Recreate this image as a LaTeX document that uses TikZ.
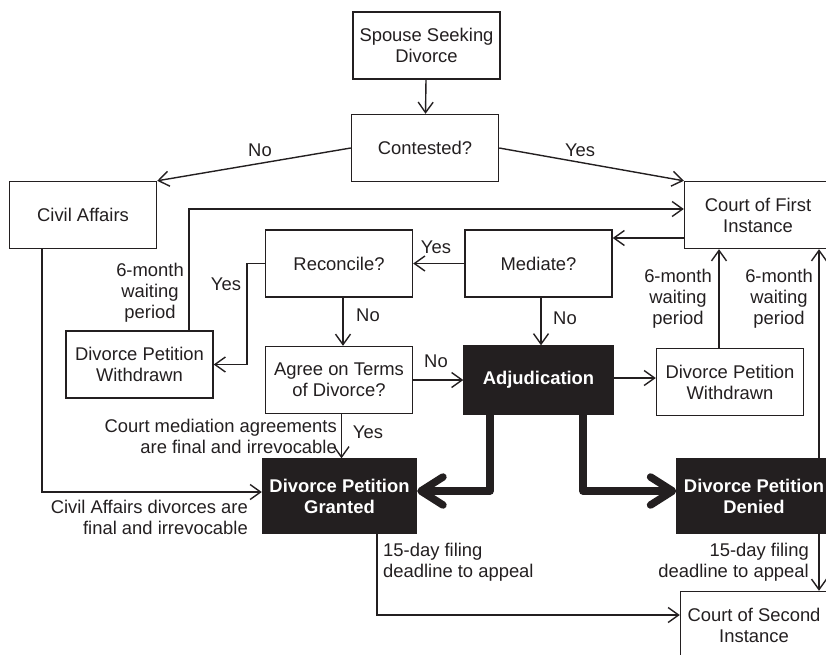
\documentclass[tikz,border=0pt]{standalone}
\usepackage{fontspec}
\setmainfont{Liberation Sans}
\usetikzlibrary{arrows.meta}
\definecolor{ink}{HTML}{231F20}

\begin{document}
\begin{tikzpicture}[x=1pt,y=-1pt]
  \useasboundingbox (0,0) rectangle (826,654);
  \clip (0,0) rectangle (826,654);
  \tikzset{BoxStyle/.style = {
    shape          = rectangle,
    draw           = ink,
    fill           = white,
    line width     = 1.4pt,
    text           = ink,
    align          = center,
    inner sep      = 0pt,
    minimum width  = 147pt,
    minimum height = 67pt,
    font           = \fontsize{18.4}{21}\selectfont
    }
  }
  \tikzset{DarkBoxStyle/.style = {
    BoxStyle,
    fill           = ink,
    text           = white,
    minimum width  = 154pt,
    minimum height = 74pt,
    font           = \fontsize{18.4}{21}\selectfont\bfseries
    }
  }
  \tikzset{ArrowStyle/.style = {
    draw       = ink,
    line width = 1.4pt,
    -{Straight Barb[length=10.5pt,width=15pt]}
    }
  }
  \tikzset{ThickArrowStyle/.style = {
    draw       = ink,
    line width = 7.5pt,
    line join  = round,
    -{Straight Barb[round,length=22pt,width=28pt]}
    }
  }
  \tikzset{LabelStyle/.style = {
    text      = ink,
    inner sep = 0pt,
    font      = \fontsize{18.4}{21}\selectfont
    }
  }

	\node[BoxStyle](A1) at (426.5, 45.5) {Spouse Seeking\\Divorce};
	\node[BoxStyle](B1) at (425, 148) {Contested?};
	\node[BoxStyle](C1) at (83, 215) {Civil Affairs};
	\node[BoxStyle](C2) at (758, 215) {Court of First\\Instance};
	\node[BoxStyle](D1) at (339, 263.5) {Reconcile?};
	\node[BoxStyle](D2) at (538.5, 263.5) {Mediate?};
	\node[BoxStyle](E1) at (139.5, 364.5) {Divorce Petition\\Withdrawn};
	\node[BoxStyle](E2) at (339, 380) {Agree on Terms\\of Divorce?};
	\node[DarkBoxStyle, minimum width=149pt, minimum height=68pt](E3) at (538.5, 380) {Adjudication};
	\node[BoxStyle](E4) at (730, 382) {Divorce Petition\\Withdrawn};
	\node[DarkBoxStyle](F1) at (339.5, 496) {Divorce Petition\\Granted};
	\node[DarkBoxStyle](F2) at (754, 496) {Divorce Petition\\Denied};
	\node[BoxStyle](G1) at (754, 625) {Court of Second\\Instance};

	\draw[ArrowStyle](A1) to (B1);
	\draw[ArrowStyle](B1.west) to (C1.north east);
	\draw[ArrowStyle](B1.east) to (C2.north west);
	\draw[ArrowStyle]([xshift=49.5pt]E1.north) |- ([yshift=6pt]C2.west);
	\coordinate (M1) at ([yshift=-23pt]C2.west);
	\draw[ArrowStyle](M1) to (M1 -| D2.east);
	\draw[ArrowStyle](D2) to (D1);
	\draw[ArrowStyle](D1.west) -- ++(-18pt,0) |- (E1.east);
	\draw[ArrowStyle]([xshift=4pt]D1.south) to ([xshift=4pt]E2.north);
	\draw[ArrowStyle]([xshift=2.5pt]D2.south) to ([xshift=2.5pt]E3.north);
	\draw[ArrowStyle](E2) to (E3);
	\draw[ArrowStyle]([yshift=2pt]E3.east) to ([yshift=4pt]E4.west);
	\coordinate (W1) at ([xshift=-11pt]E4.north);
	\draw[ArrowStyle](W1) to (W1 |- C2.south);
	\coordinate (W2) at ([xshift=65pt]F2.north);
	\draw[ArrowStyle](W2) to (W2 |- C2.south);
	\draw[ArrowStyle]([xshift=2.5pt]E2.south) to ([xshift=2pt]F1.north);
	\draw[ArrowStyle]([xshift=-41pt]C1.south) |- ([yshift=4pt]F1.west);
	\draw[ThickArrowStyle]([xshift=-48.5pt]E3.south) |- ([yshift=5pt]F1.east);
	\draw[ThickArrowStyle]([xshift=44.5pt]E3.south) |- ([yshift=5pt]F2.west);
	\coordinate (W3) at ([xshift=65pt]F2.south);
	\draw[ArrowStyle](W3) to (W3 |- G1.north);
	\draw[ArrowStyle]([xshift=37.5pt]F1.south) |- ([yshift=10pt]G1.west);

	\node[LabelStyle](L1) at (260, 150) {No};
	\node[LabelStyle](L2) at (580, 150) {Yes};
	\node[LabelStyle](L3) at (436, 247) {Yes};
	\node[LabelStyle](L4) at (226, 284) {Yes};
	\node[LabelStyle](L5) at (368, 315) {No};
	\node[LabelStyle](L6) at (565, 318) {No};
	\node[LabelStyle](L7) at (436, 361) {No};
	\node[LabelStyle](L8) at (368, 432) {Yes};
	\node[LabelStyle, align=center](L9) at (150, 292.5) {6-month\\waiting\\period};
	\node[LabelStyle, align=center](L10) at (678, 299) {6-month\\waiting\\period};
	\node[LabelStyle, align=center](L11) at (779, 299) {6-month\\waiting\\period};
	\node[LabelStyle, align=right, anchor=east](L12) at (337, 436.5) {Court mediation agreements\\are final and irrevocable};
	\node[LabelStyle, align=right, anchor=east](L13) at (248, 517.5) {Civil Affairs divorces are\\final and irrevocable};
	\node[LabelStyle, align=left, anchor=west](L14) at (383, 562.5) {15-day filing\\deadline to appeal};
	\node[LabelStyle, align=right, anchor=east](L15) at (809, 562.5) {15-day filing\\deadline to appeal};

  \end{tikzpicture}
\end{document}
